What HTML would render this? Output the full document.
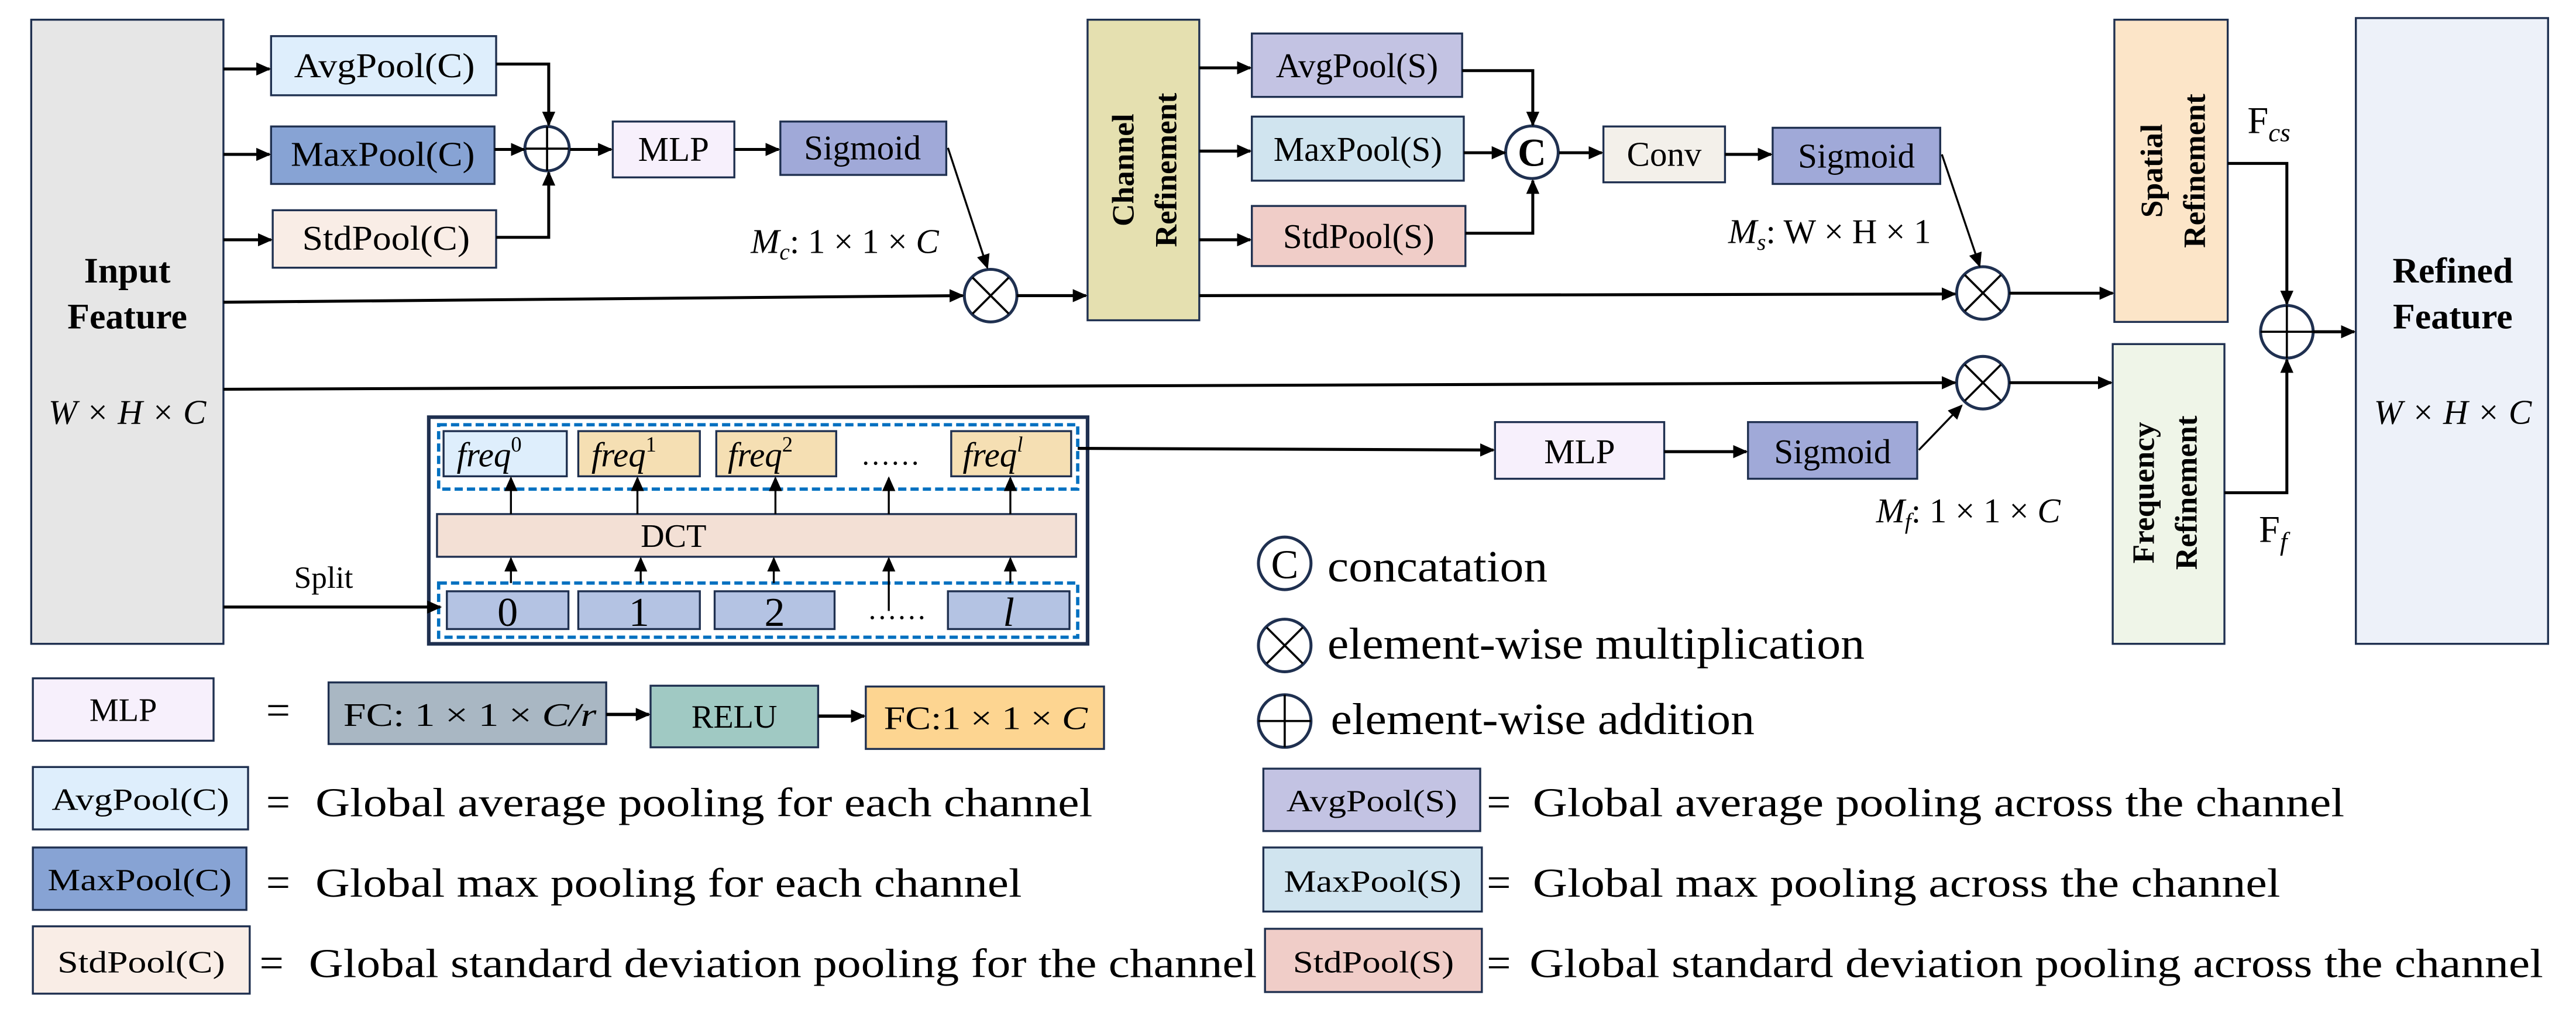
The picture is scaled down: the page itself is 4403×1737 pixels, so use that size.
<!DOCTYPE html>
<html><head><meta charset="utf-8"><style>
html,body{margin:0;padding:0;background:#fff;}
svg{display:block;}
svg text{font-family:"Liberation Serif","Times New Roman","DejaVu Serif",serif;fill:#000;}
</style></head><body>
<svg width="4403" height="1737" viewBox="0 0 1568 618.6" preserveAspectRatio="none" xmlns="http://www.w3.org/2000/svg" font-family="Liberation Serif, Times New Roman, DejaVu Serif, serif">
<defs>
<marker id="a" markerUnits="userSpaceOnUse" markerWidth="9" markerHeight="8" refX="8" refY="4" orient="auto"><path d="M0,0 L9,4 L0,8 z" fill="#000"/></marker>
</defs>
<g stroke="#1f3050" stroke-width="1.2">
<rect x="19" y="12" width="117" height="380" fill="#e6e6e6"/>
<rect x="165" y="22" width="137" height="36" fill="#deeefc"/>
<rect x="165" y="77" width="136" height="35" fill="#87a3d4"/>
<rect x="166" y="128" width="136" height="35" fill="#f9ede6"/>
<rect x="373" y="74" width="74" height="34" fill="#f7f0fc"/>
<rect x="475" y="74" width="101" height="32.5" fill="#a0a9d8"/>
<rect x="662" y="12" width="68" height="183" fill="#e5e0b0"/>
<rect x="762" y="20.4" width="128" height="38.6" fill="#c3c3e3"/>
<rect x="762" y="71" width="129" height="39" fill="#d0e4ef"/>
<rect x="762" y="125.4" width="130" height="36.6" fill="#f0cdc8"/>
<rect x="976" y="77" width="74" height="34" fill="#f3f0ea"/>
<rect x="1079" y="77.8" width="102" height="34.2" fill="#a0a9d8"/>
<rect x="1287" y="12" width="69" height="184" fill="#fce5c8"/>
<rect x="1286" y="209.5" width="68" height="182.5" fill="#eff5e8"/>
<rect x="1434" y="11" width="117" height="381" fill="#edf1f9"/>
<rect x="910" y="257" width="103" height="34.5" fill="#f7f0fc"/>
<rect x="1064" y="257" width="103" height="34.5" fill="#a0a9d8"/>
<rect x="261" y="254" width="401" height="138" fill="#fff" stroke-width="2.2"/>
<rect x="270" y="262.5" width="75" height="27.5" fill="#deeefc"/>
<rect x="352" y="262.5" width="74" height="27.5" fill="#f5dfb3"/>
<rect x="436" y="262.5" width="73" height="27.5" fill="#f5dfb3"/>
<rect x="579" y="262.5" width="73" height="27.5" fill="#f5dfb3"/>
<rect x="266" y="313" width="389" height="26" fill="#f3e0d5"/>
<rect x="272" y="360" width="74" height="23" fill="#b4c3e3"/>
<rect x="352" y="360" width="74" height="23" fill="#b4c3e3"/>
<rect x="435" y="360" width="73" height="23" fill="#b4c3e3"/>
<rect x="577" y="360" width="74" height="23" fill="#b4c3e3"/>
</g>
<g fill="none" stroke="#0070c0" stroke-width="2" stroke-dasharray="5,2.5">
<rect x="267" y="258.6" width="389" height="39.2"/>
<rect x="267" y="355" width="389" height="33"/>
</g>
<g fill="#fff" stroke="#1f3050" stroke-width="1.8">
<circle cx="333" cy="90.5" r="13.5"/>
<circle cx="603" cy="180" r="16"/>
<circle cx="932.5" cy="92.7" r="16"/>
<circle cx="1207" cy="178.4" r="16"/>
<circle cx="1207" cy="233" r="16"/>
<circle cx="1392" cy="202" r="16"/>
<circle cx="782" cy="343" r="16"/>
<circle cx="782" cy="393" r="16"/>
<circle cx="782" cy="439" r="16"/>
</g>
<g stroke="#000" stroke-width="1.3">
<line x1="333" y1="77" x2="333" y2="104"/><line x1="320" y1="90.5" x2="346" y2="90.5"/>
<line x1="592" y1="169" x2="614" y2="191"/><line x1="614" y1="169" x2="592" y2="191"/>
<line x1="1196" y1="167.4" x2="1218" y2="189.4"/><line x1="1218" y1="167.4" x2="1196" y2="189.4"/>
<line x1="1196" y1="222" x2="1218" y2="244"/><line x1="1218" y1="222" x2="1196" y2="244"/>
<line x1="1392" y1="186" x2="1392" y2="218"/><line x1="1376" y1="202" x2="1408" y2="202"/>
<line x1="771" y1="382" x2="793" y2="404"/><line x1="793" y1="382" x2="771" y2="404"/>
<line x1="782" y1="423" x2="782" y2="455"/><line x1="766" y1="439" x2="798" y2="439"/>
</g>
<text x="932.5" y="101" font-size="24" font-weight="bold" text-anchor="middle">C</text>
<text x="782" y="352" font-size="25" text-anchor="middle">C</text>
<g stroke="#000" stroke-width="1.8" fill="none" marker-end="url(#a)">
<line x1="136" y1="42" x2="164" y2="42"/>
<line x1="136" y1="94" x2="164" y2="94"/>
<line x1="136" y1="146" x2="165" y2="146"/>
<polyline points="302,39 334,39 334,76"/>
<polyline points="302,144.5 334,144.5 334,105"/>
<line x1="301" y1="91" x2="319" y2="91"/>
<line x1="347" y1="91" x2="372" y2="91"/>
<line x1="447" y1="91" x2="474" y2="91"/>
<line x1="577" y1="90" x2="601" y2="163" stroke-width="1.2"/>
<line x1="136" y1="184" x2="586" y2="180"/>
<line x1="619" y1="180" x2="661" y2="180"/>
<line x1="730" y1="41.3" x2="761" y2="41.3"/>
<line x1="730" y1="92" x2="761" y2="92"/>
<line x1="730" y1="146" x2="761" y2="146"/>
<polyline points="890,43 933,43 933,76"/>
<polyline points="892,142 933,142 933,110"/>
<line x1="891" y1="93" x2="916" y2="93"/>
<line x1="949" y1="93" x2="975" y2="93"/>
<line x1="1050" y1="94" x2="1078" y2="94"/>
<line x1="1182" y1="94" x2="1205" y2="162" stroke-width="1.2"/>
<line x1="730" y1="180" x2="1190" y2="179"/>
<line x1="1223" y1="178.5" x2="1286" y2="178.5"/>
<polyline points="1356,99.5 1392,99.5 1392,185"/>
<polyline points="1354,300 1392,300 1392,219"/>
<line x1="1408" y1="202" x2="1433" y2="202"/>
<line x1="136" y1="237" x2="1190" y2="233"/>
<line x1="1223" y1="233" x2="1285" y2="233"/>
<line x1="656" y1="273" x2="909" y2="274"/>
<line x1="1013" y1="275" x2="1063" y2="275"/>
<line x1="1168" y1="274" x2="1194" y2="247" stroke-width="1.2"/>
<line x1="136" y1="369.6" x2="268" y2="369.6"/>
</g>
<g stroke="#000" stroke-width="1.2" marker-end="url(#a)">
<line x1="311" y1="355" x2="311" y2="340"/><line x1="390" y1="355" x2="390" y2="340"/><line x1="471" y1="355" x2="471" y2="340"/><line x1="541" y1="372" x2="541" y2="340"/><line x1="615" y1="355" x2="615" y2="340"/>
<line x1="311" y1="313" x2="311" y2="291"/><line x1="388" y1="313" x2="388" y2="291"/><line x1="472" y1="313" x2="472" y2="291"/><line x1="541" y1="313" x2="541" y2="291"/><line x1="615" y1="313" x2="615" y2="291"/>
</g>
<g font-size="21">
<text x="77.5" y="172" font-size="22" font-weight="bold" text-anchor="middle">Input</text>
<text x="77.5" y="200" font-size="22" font-weight="bold" text-anchor="middle">Feature</text>
<text x="77.5" y="258" font-size="21" font-style="italic" text-anchor="middle">W × H × C</text>
<text x="179" y="47" textLength="110" lengthAdjust="spacingAndGlyphs">AvgPool(C)</text>
<text x="177" y="101" textLength="112" lengthAdjust="spacingAndGlyphs">MaxPool(C)</text>
<text x="184" y="152" textLength="102" lengthAdjust="spacingAndGlyphs">StdPool(C)</text>
<text x="410" y="98" text-anchor="middle">MLP</text>
<text x="525" y="97" text-anchor="middle">Sigmoid</text>
<text x="457" y="154" font-style="italic">M<tspan font-size="14" dy="4">c</tspan><tspan font-style="normal" dy="-4">: 1 × 1 × </tspan>C</text>
<text transform="translate(690,103.5) rotate(-90)" font-size="19" font-weight="bold" text-anchor="middle">Channel</text>
<text transform="translate(716,103.5) rotate(-90)" font-size="19" font-weight="bold" text-anchor="middle">Refinement</text>
<text x="826" y="47" text-anchor="middle">AvgPool(S)</text>
<text x="826.5" y="98" text-anchor="middle">MaxPool(S)</text>
<text x="827" y="151" text-anchor="middle">StdPool(S)</text>
<text x="1013" y="101" text-anchor="middle">Conv</text>
<text x="1130" y="102" text-anchor="middle">Sigmoid</text>
<text x="1052" y="148" font-style="italic">M<tspan font-size="14" dy="4">s</tspan><tspan font-style="normal" dy="-4">: W × H × 1</tspan></text>
<text transform="translate(1316,104) rotate(-90)" font-size="19" font-weight="bold" text-anchor="middle">Spatial</text>
<text transform="translate(1342,104) rotate(-90)" font-size="19" font-weight="bold" text-anchor="middle">Refinement</text>
<text transform="translate(1311,300) rotate(-90)" font-size="19" font-weight="bold" text-anchor="middle">Frequency</text>
<text transform="translate(1337,300) rotate(-90)" font-size="19" font-weight="bold" text-anchor="middle">Refinement</text>
<text x="1368" y="81" font-size="23">F<tspan font-size="16" font-style="italic" dy="5">cs</tspan></text>
<text x="1375" y="330" font-size="23">F<tspan font-size="16" font-style="italic" dy="5">f</tspan></text>
<text x="1493" y="172" font-size="22" font-weight="bold" text-anchor="middle">Refined</text>
<text x="1493" y="200" font-size="22" font-weight="bold" text-anchor="middle">Feature</text>
<text x="1493" y="258" font-style="italic" text-anchor="middle">W × H × C</text>
<text x="961.5" y="282" text-anchor="middle">MLP</text>
<text x="1115.5" y="282" text-anchor="middle">Sigmoid</text>
<text x="1142" y="318" font-style="italic">M<tspan font-size="14" dy="4">f</tspan><tspan font-style="normal" dy="-4">: 1 × 1 × </tspan>C</text>
<text x="179" y="358" font-size="19">Split</text>
<text x="410" y="333" font-size="20" text-anchor="middle">DCT</text>
<g font-style="italic" font-size="21">
<text x="278" y="284">freq<tspan font-size="13" dy="-9" font-style="normal">0</tspan></text>
<text x="360" y="284">freq<tspan font-size="13" dy="-9" font-style="normal">1</tspan></text>
<text x="443" y="284">freq<tspan font-size="13" dy="-9" font-style="normal">2</tspan></text>
<text x="586" y="284">freq<tspan font-size="13" dy="-9">l</tspan></text>
</g>
<text x="542" y="283" font-size="18" text-anchor="middle">……</text>
<text x="546" y="377" font-size="18" text-anchor="middle">……</text>
<g font-size="25" text-anchor="middle">
<text x="309" y="381">0</text><text x="389" y="381">1</text><text x="471.5" y="381">2</text><text x="614" y="381" font-style="italic">l</text>
</g>
</g>
<g font-size="27">
<text x="808" y="354" textLength="134" lengthAdjust="spacingAndGlyphs">concatation</text>
<text x="808" y="401" textLength="327" lengthAdjust="spacingAndGlyphs">element-wise multiplication</text>
<text x="810" y="447" textLength="258" lengthAdjust="spacingAndGlyphs">element-wise addition</text>
</g>
<g stroke="#1f3050" stroke-width="1.2">
<rect x="20" y="413" width="110" height="38" fill="#f7f0fc"/>
<rect x="200" y="415.5" width="169" height="37.5" fill="#a9b7c3"/>
<rect x="396" y="417.5" width="102" height="37.5" fill="#a0c9c3"/>
<rect x="527" y="418" width="145" height="38" fill="#fdd591"/>
<rect x="20" y="467" width="131" height="38" fill="#deeefc"/>
<rect x="20" y="516" width="130" height="38" fill="#87a3d4"/>
<rect x="20" y="564" width="132" height="41" fill="#f9ede6"/>
<rect x="769" y="468" width="132" height="38" fill="#c3c3e3"/>
<rect x="769" y="516" width="133" height="39" fill="#d0e4ef"/>
<rect x="770" y="565.5" width="132" height="38.5" fill="#f0cdc8"/>
</g>
<g stroke="#000" stroke-width="2" marker-end="url(#a)">
<line x1="369" y1="435" x2="395" y2="435"/>
<line x1="498" y1="436" x2="526" y2="436"/>
</g>
<g font-size="20">
<text x="75" y="439" text-anchor="middle">MLP</text>
<text x="162" y="441" font-size="26">=</text>
<text x="209" y="442" textLength="154" lengthAdjust="spacingAndGlyphs">FC: 1 × 1 × <tspan font-style="italic">C/r</tspan></text>
<text x="447" y="443" text-anchor="middle">RELU</text>
<text x="538" y="444" textLength="124" lengthAdjust="spacingAndGlyphs">FC:1 × 1 × <tspan font-style="italic">C</tspan></text>
<text x="85.5" y="493" font-size="19" text-anchor="middle" textLength="108" lengthAdjust="spacingAndGlyphs">AvgPool(C)</text>
<text x="85" y="542" font-size="19" text-anchor="middle" textLength="112" lengthAdjust="spacingAndGlyphs">MaxPool(C)</text>
<text x="86" y="592" font-size="19" text-anchor="middle" textLength="102" lengthAdjust="spacingAndGlyphs">StdPool(C)</text>
<text x="835" y="494" font-size="19" text-anchor="middle" textLength="104" lengthAdjust="spacingAndGlyphs">AvgPool(S)</text>
<text x="835.5" y="543" font-size="19" text-anchor="middle" textLength="108" lengthAdjust="spacingAndGlyphs">MaxPool(S)</text>
<text x="836" y="592" font-size="19" text-anchor="middle" textLength="98" lengthAdjust="spacingAndGlyphs">StdPool(S)</text>
</g>
<g font-size="25">
<text x="162" y="497" font-size="26">=</text>
<text x="192" y="497" textLength="473" lengthAdjust="spacingAndGlyphs">Global average pooling for each channel</text>
<text x="162" y="546" font-size="26">=</text>
<text x="192" y="546" textLength="430" lengthAdjust="spacingAndGlyphs">Global max pooling for each channel</text>
<text x="158" y="595" font-size="26">=</text>
<text x="188" y="595" textLength="577" lengthAdjust="spacingAndGlyphs">Global standard deviation pooling for the channel</text>
<text x="905" y="497" font-size="26">=</text>
<text x="933" y="497" textLength="494" lengthAdjust="spacingAndGlyphs">Global average pooling across the channel</text>
<text x="905" y="546" font-size="26">=</text>
<text x="933" y="546" textLength="455" lengthAdjust="spacingAndGlyphs">Global max pooling across the channel</text>
<text x="905" y="595" font-size="26">=</text>
<text x="931" y="595" textLength="617" lengthAdjust="spacingAndGlyphs">Global standard deviation pooling across the channel</text>
</g>
</svg>
</body></html>
